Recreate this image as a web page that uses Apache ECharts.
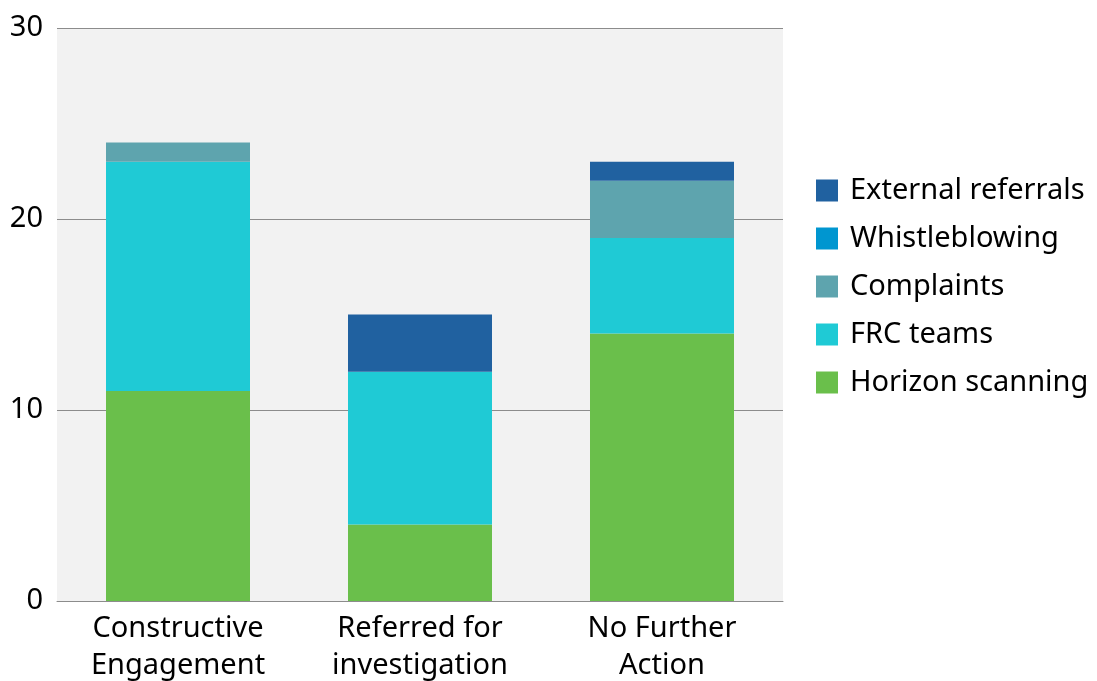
<!DOCTYPE html>
<html>
<head>
<meta charset="utf-8">
<script src="https://cdn.jsdelivr.net/npm/echarts@6/dist/echarts.min.js"></script>
<style>
  html, body { margin: 0; padding: 0; background: #fff; }
  #chart { width: 1097px; height: 681px; }
</style>
</head>
<body>
<div id="chart"></div>
<script>
var categories = ['Constructive\nEngagement', 'Referred for\ninvestigation', 'No Further\nAction'];
var horizon = [11, 4, 14];
var frcTeams = [12, 8, 5];
var complaints = [1, 0, 3];
var whistleblowing = [0, 0, 0];
var external = [0, 3, 1];
var yTicks = [0, 10, 20, 30];

var chart = echarts.init(document.getElementById('chart'));
var font = 'Noto Sans';

function bar(name, data, color) {
  return {
    name: name,
    type: 'bar',
    stack: 'total',
    barWidth: 144,
    itemStyle: { color: color },
    data: data
  };
}

var option = {
  animation: false,
  textStyle: { fontFamily: font },
  grid: {
    left: 57, right: 314, top: 28, bottom: 80,
    outerBoundsMode: 'none',
    show: true, backgroundColor: '#f2f2f2', borderWidth: 0
  },
  legend: {
    orient: 'vertical',
    left: 811,
    top: 171,
    itemWidth: 22,
    itemHeight: 22,
    itemGap: 19,
    icon: 'rect',
    textStyle: { fontSize: 29, color: '#000', fontFamily: font, padding: [0, 0, 0, 7], lineHeight: 29 },
    data: ['External referrals', 'Whistleblowing', 'Complaints', 'FRC teams', 'Horizon scanning']
  },
  xAxis: {
    type: 'category',
    data: categories,
    axisTick: { show: false },
    axisLine: { lineStyle: { color: '#8c8c8c', width: 1 } },
    axisLabel: { color: '#000', fontSize: 29, lineHeight: 37, margin: 9, fontFamily: font }
  },
  yAxis: {
    type: 'value',
    min: yTicks[0],
    max: yTicks[yTicks.length - 1],
    interval: 10,
    axisLine: { show: false },
    axisTick: { show: false },
    splitLine: { lineStyle: { color: '#8c8c8c', width: 1 } },
    axisLabel: { color: '#000', fontSize: 29, margin: 14, fontFamily: font }
  },
  series: [
    bar('Horizon scanning', horizon, '#6abf4b'),
    bar('FRC teams', frcTeams, '#1fcad5'),
    bar('Complaints', complaints, '#5ea4ae'),
    bar('Whistleblowing', whistleblowing, '#0096d0'),
    bar('External referrals', external, '#2061a0')
  ]
};
chart.setOption(option);
</script>
</body>
</html>
